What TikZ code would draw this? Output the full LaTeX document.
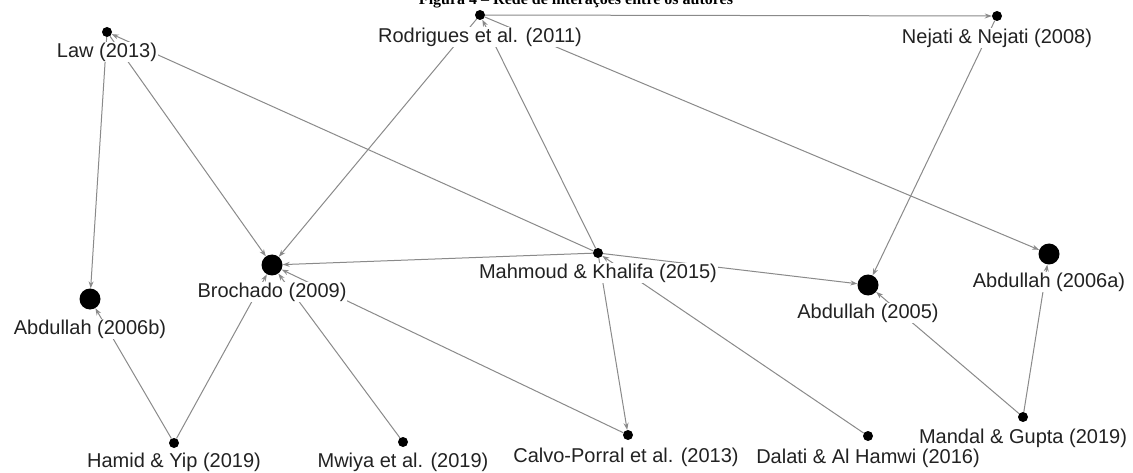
\documentclass[tikz,border=0pt]{standalone}
\usepackage{fontspec}
\setmainfont{Liberation Sans}
\newfontfamily\titlefont{Liberation Serif}
\usetikzlibrary{arrows.meta}
\pgfdeclarelayer{bg}
\pgfdeclarelayer{paper}
\pgfsetlayers{paper,bg,main}
\definecolor{edgegray}{HTML}{8A8A8A}
\definecolor{labtext}{HTML}{222222}
\begin{document}
\begin{tikzpicture}[x=1pt,y=-1pt,
  sdot/.style={circle,fill=black,inner sep=0pt,minimum size=10pt},
  bdot/.style={circle,fill=black,inner sep=0pt,minimum size=21pt},
  lab/.style={fill=white,inner sep=1pt,text=labtext,font=\fontsize{20}{22}\selectfont},
  edge/.style={draw=edgegray,line width=1pt,-{Stealth[length=7pt,width=5pt]}},
]
\useasboundingbox (0,0) rectangle (1133,473);
\clip (0,0) rectangle (1133,473);
\begin{pgfonlayer}{paper}
\fill[white] (0,0) rectangle (1133,473);
\end{pgfonlayer}

% title (cut off at the top)
\node[anchor=base,inner sep=0pt,font=\titlefont\bfseries\fontsize{16}{18}\selectfont] (title) at (576,5) {Figura 4 – Rede de interações entre os autores};

% dots
\node[sdot] (law) at (107,32) {};
\node[sdot] (rod) at (480,15) {};
\node[sdot] (nej) at (997,16) {};
\node[bdot] (bro) at (272,265) {};
\node[sdot] (mah) at (598,253) {};
\node[bdot] (a05) at (868,285) {};
\node[bdot] (a06a) at (1049,254) {};
\node[bdot] (a06b) at (90,299) {};
\node[sdot] (man) at (1023,417) {};
\node[sdot] (ham) at (174,443) {};
\node[sdot] (mwi) at (403,442) {};
\node[sdot] (cal) at (628,435) {};
\node[sdot] (dal) at (868,436) {};

% labels
\node[lab] (law-l) at (107,52) {Law (2013)};
\node[lab] (rod-l) at (480,37) {Rodrigues et al. (2011)};
\node[lab] (nej-l) at (997,38) {Nejati \& Nejati (2008)};
\node[lab] (bro-l) at (272,292) {Brochado (2009)};
\node[lab] (mah-l) at (598,273) {Mahmoud \& Khalifa (2015)};
\node[lab] (a05-l) at (868,313) {Abdullah (2005)};
\node[lab] (a06a-l) at (1049,282) {Abdullah (2006a)};
\node[lab] (a06b-l) at (90,329) {Abdullah (2006b)};
\node[lab] (man-l) at (1023,438) {Mandal \& Gupta (2019)};
\node[lab] (ham-l) at (174,462) {Hamid \& Yip (2019)};
\node[lab] (mwi-l) at (403,462) {Mwiya et al. (2019)};
\node[lab] (cal-l) at (626,457) {Calvo-Porral et al. (2013)};
\node[lab] (dal-l) at (868,458) {Dalati \& Al Hamwi (2016)};

% connectors
\begin{pgfonlayer}{bg}
\draw[edge] (rod) -- (nej);
\draw[edge] (rod) -- (bro);
\draw[edge] (rod) -- (a06a);
\draw[edge] (mah) -- (rod);
\draw[edge] (law) -- (a06b);
\draw[edge] (law) -- (bro);
\draw[edge] (mah) -- (law);
\draw[edge] (mah) -- (bro);
\draw[edge] (mah) -- (a05);
\draw[edge] (mah) -- (cal);
\draw[edge] (cal) -- (bro);
\draw[edge] (dal) -- (mah);
\draw[edge] (nej) -- (a05);
\draw[edge] (man) -- (a05);
\draw[edge] (man) -- (a06a);
\draw[edge] (ham) -- (a06b);
\draw[edge] (ham) -- (bro);
\draw[edge] (mwi) -- (bro);
\end{pgfonlayer}
\end{tikzpicture}
\end{document}
